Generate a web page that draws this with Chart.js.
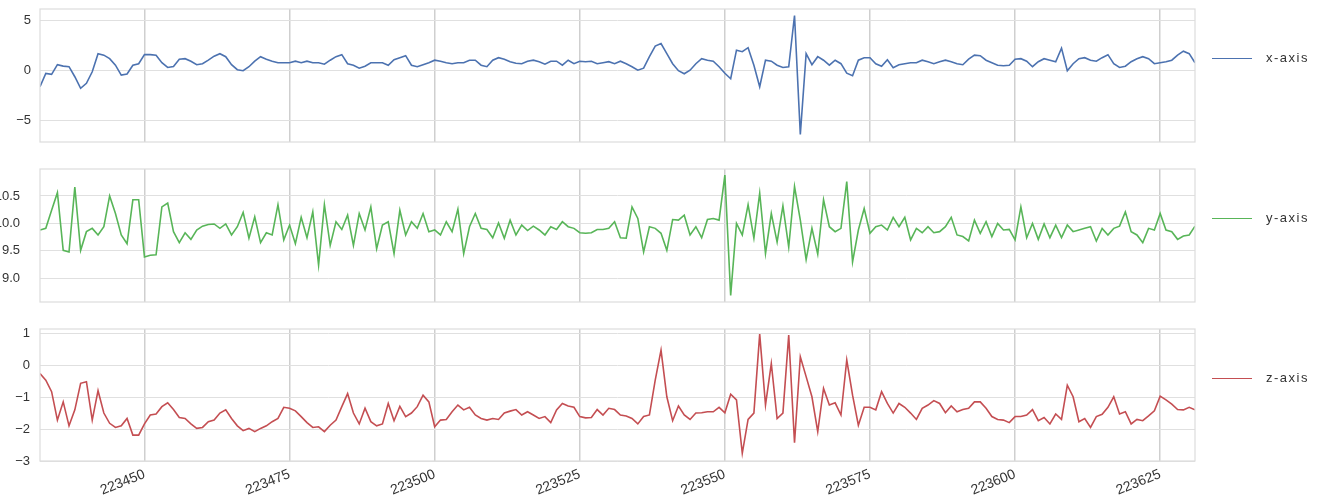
<!DOCTYPE html>
<html>
<head>
<meta charset="utf-8">
<script src="https://cdn.jsdelivr.net/npm/chart.js@4.4.1/dist/chart.umd.min.js"></script>
<style>
  html, body { margin: 0; padding: 0; background: #fff; }
  body { width: 1330px; height: 495px; position: relative; overflow: hidden; font-family: "Liberation Sans", Arial, sans-serif; }
  .panel { position: absolute; left: 0; }
  .legend { position: absolute; left: 1212px; color: #333; font-size: 13px; letter-spacing: 1.5px; white-space: nowrap; }
  .legend span.swatch { display: inline-block; width: 40px; height: 0; border-top: 1.6px solid; vertical-align: middle; margin-right: 14px; }
</style>
</head>
<body>
<div class="panel" style="top:0px"><canvas id="chart-x" width="1330" height="150"></canvas></div>
<div class="panel" style="top:160px"><canvas id="chart-y" width="1330" height="150"></canvas></div>
<div class="panel" style="top:320px"><canvas id="chart-z" width="1330" height="175"></canvas></div>
<div class="legend" style="top:50px"><span class="swatch" style="border-color:#4c72b0"></span>x-axis</div>
<div class="legend" style="top:210px"><span class="swatch" style="border-color:#58b558"></span>y-axis</div>
<div class="legend" style="top:370px"><span class="swatch" style="border-color:#c44e52"></span>z-axis</div>
<script>
// sample index of first reading
const xStart = 223432;
const xTicks = [223450, 223475, 223500, 223525, 223550, 223575, 223600, 223625];

const xAxisValues = [
  -1.6, -0.26, -0.36, 0.6, 0.46, 0.4, -0.6, -1.75, -1.25, -0.1,
  1.7, 1.55, 1.2, 0.55, -0.43, -0.33, 0.55, 0.7, 1.6, 1.6,
  1.55, 0.8, 0.33, 0.43, 1.15, 1.2, 0.95, 0.6, 0.7, 1.05,
  1.45, 1.7, 1.4, 0.6, 0.1, 0.0, 0.4, 0.95, 1.4, 1.15,
  0.95, 0.8, 0.8, 0.8, 0.95, 0.8, 0.95, 0.8, 0.8, 0.65,
  1.05, 1.4, 1.6, 0.7, 0.55, 0.25, 0.45, 0.8, 0.8, 0.8,
  0.55, 1.1, 1.3, 1.5, 0.55, 0.4, 0.6, 0.8, 1.05, 0.95,
  0.8, 0.7, 0.8, 0.8, 1.05, 1.05, 0.55, 0.4, 1.05, 1.3,
  1.15, 0.9, 0.75, 0.7, 0.95, 1.05, 0.9, 0.65, 0.95, 0.95,
  0.55, 1.05, 0.7, 0.95, 0.9, 0.95, 0.7, 0.8, 0.9, 0.7,
  0.95, 0.7, 0.4, 0.05, 0.25, 1.4, 2.45, 2.7, 1.7, 0.7,
  0.0, -0.3, 0.05, 0.7, 1.2, 1.05, 0.95, 0.4, -0.25, -0.8,
  2.05, 1.9, 2.3, 0.55, -1.6, 1.05, 0.95, 0.55, 0.33, 0.4,
  5.5, -6.35, 1.7, 0.6, 1.4, 1.05, 0.55, 1.05, 0.7, -0.25,
  -0.5, 1.05, 1.3, 1.3, 0.7, 0.45, 1.1, 0.3, 0.6, 0.7,
  0.8, 0.8, 1.05, 0.9, 0.7, 0.9, 1.05, 0.9, 0.7, 0.6,
  1.15, 1.55, 1.5, 1.05, 0.8, 0.55, 0.5, 0.55, 1.15, 1.2,
  0.95, 0.4, 0.9, 1.2, 1.05, 0.9, 2.25, 0.0, 0.7, 1.2,
  1.3, 1.05, 0.95, 1.3, 1.6, 0.7, 0.33, 0.45, 0.9, 1.2,
  1.4, 1.2, 0.7, 0.8, 0.9, 1.05, 1.55, 1.95, 1.7, 0.8
];

const yAxisValues = [
  9.88, 9.91, 10.24, 10.56, 9.51, 9.48, 10.66, 9.51, 9.85, 9.91,
  9.79, 9.94, 10.50, 10.18, 9.79, 9.63, 10.43, 10.43, 9.39, 9.42,
  9.43, 10.30, 10.37, 9.85, 9.65, 9.83, 9.71, 9.88, 9.95, 9.98,
  9.99, 9.91, 9.99, 9.79, 9.94, 10.20, 9.73, 10.12, 9.65, 9.83,
  9.79, 10.34, 9.70, 9.97, 9.63, 10.11, 9.74, 10.21, 9.24, 10.34,
  9.60, 10.03, 9.89, 10.15, 9.60, 10.18, 9.88, 10.30, 9.54, 9.97,
  10.03, 9.45, 10.24, 9.79, 10.03, 9.91, 10.18, 9.85, 9.88, 9.79,
  10.03, 9.85, 10.26, 9.45, 9.94, 10.18, 9.91, 9.89, 9.74, 10.01,
  9.73, 10.06, 9.79, 9.97, 9.87, 9.95, 9.88, 9.79, 9.94, 9.89,
  10.03, 9.94, 9.91, 9.83, 9.82, 9.83, 9.89, 9.89, 9.91, 10.03,
  9.74, 9.73, 10.30, 10.09, 9.48, 9.94, 9.91, 9.82, 9.51, 10.07,
  10.06, 10.15, 9.79, 9.94, 9.74, 10.07, 10.09, 10.06, 10.88, 8.69,
  10.00, 9.79, 10.34, 9.73, 10.55, 9.45, 10.18, 9.66, 10.32, 9.57,
  10.67, 10.06, 9.34, 9.91, 9.44, 10.43, 9.94, 9.85, 9.91, 10.76,
  9.30, 9.88, 10.27, 9.82, 9.94, 9.97, 9.88, 10.11, 9.94, 10.11,
  9.70, 9.91, 9.83, 9.94, 9.83, 9.85, 9.94, 10.11, 9.79, 9.76,
  9.68, 10.06, 9.82, 10.03, 9.76, 10.00, 9.88, 9.89, 9.70, 10.30,
  9.74, 10.00, 9.71, 9.99, 9.74, 9.97, 9.74, 9.97, 9.85, 9.88,
  9.91, 9.94, 9.68, 9.91, 9.79, 9.91, 9.95, 10.21, 9.85, 9.79,
  9.65, 9.91, 9.88, 10.18, 9.88, 9.85, 9.71, 9.77, 9.79, 9.95
];

const zAxisValues = [
  -0.26, -0.47, -0.83, -1.72, -1.15, -1.9, -1.4, -0.57, -0.52, -1.72,
  -0.8, -1.5, -1.82, -1.95, -1.9, -1.67, -2.19, -2.19, -1.84, -1.56,
  -1.53, -1.3, -1.18, -1.39, -1.64, -1.67, -1.84, -1.98, -1.95, -1.77,
  -1.72, -1.5, -1.4, -1.67, -1.9, -2.05, -1.98, -2.08, -1.98, -1.9,
  -1.77, -1.67, -1.32, -1.35, -1.43, -1.61, -1.8, -1.95, -1.93, -2.08,
  -1.88, -1.72, -1.3, -0.89, -1.5, -1.84, -1.35, -1.77, -1.9, -1.84,
  -1.2, -1.74, -1.29, -1.61, -1.5, -1.3, -0.94, -1.15, -1.93, -1.72,
  -1.7, -1.46, -1.25, -1.4, -1.32, -1.56, -1.67, -1.72, -1.67, -1.7,
  -1.5, -1.44, -1.39, -1.56, -1.46, -1.56, -1.67, -1.61, -1.8, -1.4,
  -1.2, -1.28, -1.32, -1.61, -1.65, -1.64, -1.39, -1.56, -1.35, -1.39,
  -1.56, -1.59, -1.67, -1.84, -1.61, -1.56, -0.47, 0.47, -0.99, -1.74,
  -1.28, -1.56, -1.7, -1.5, -1.49, -1.46, -1.46, -1.32, -1.49, -0.91,
  -1.09, -2.76, -1.7, -1.5, 0.97, -1.25, 0.05, -1.67, -1.5, 0.94,
  -2.43, 0.26, -0.36, -0.99, -2.08, -0.73, -1.25, -1.18, -1.56, 0.16,
  -0.94, -1.88, -1.32, -1.32, -1.4, -0.83, -1.2, -1.5, -1.2, -1.32,
  -1.5, -1.7, -1.35, -1.25, -1.11, -1.2, -1.49, -1.28, -1.46, -1.39,
  -1.35, -1.15, -1.15, -1.35, -1.61, -1.7, -1.72, -1.8, -1.61, -1.61,
  -1.56, -1.39, -1.74, -1.64, -1.84, -1.53, -1.7, -0.63, -0.99, -1.77,
  -1.67, -1.95, -1.61, -1.54, -1.32, -0.99, -1.53, -1.46, -1.84, -1.7,
  -1.74, -1.59, -1.43, -0.97, -1.09, -1.22, -1.39, -1.4, -1.32, -1.4
];

const yTicksX = [-5, 0, 5];
const yTicksY = [9.0, 9.5, 10.0, 10.5];
const yTicksZ = [-3, -2, -1, 0, 1];

const xLabels = [];
for (let i = 0; i < xAxisValues.length; i++) xLabels.push(xStart + i);

const fontFamily = '"Liberation Sans", Arial, sans-serif';

// light frame round the plot area, like the seaborn whitegrid spines
const framePlugin = {
  id: 'frame',
  afterDraw(chart) {
    const a = chart.chartArea;
    const ctx = chart.ctx;
    ctx.save();
    ctx.strokeStyle = '#dcdcdc';
    ctx.lineWidth = 1.2;
    ctx.strokeRect(a.left, a.top, a.right - a.left, a.bottom - a.top);
    ctx.restore();
  }
};

function minusSign(s) {
  return String(s).replace('-', '\u2212');
}

function makeChart(canvasId, values, color, yMin, yMax, yTicks, cfg) {
  const points = values.map((v, i) => ({ x: xLabels[i], y: v }));
  return new Chart(document.getElementById(canvasId), {
    type: 'line',
    data: {
      datasets: [{
        data: points,
        borderColor: color,
        borderWidth: 1.6,
        pointRadius: 0,
        tension: 0,
        fill: false,
      }],
    },
    options: {
      responsive: false,
      animation: false,
      devicePixelRatio: 1,
      layout: { padding: { left: 0, right: 135, top: cfg.padTop, bottom: cfg.padBottom } },
      plugins: { legend: { display: false }, tooltip: { enabled: false } },
      scales: {
        x: {
          type: 'linear',
          min: xLabels[0],
          max: xLabels[xLabels.length - 1],
          afterBuildTicks: s => { s.ticks = xTicks.map(v => ({ value: v })); },
          afterFit: s => { s.height = cfg.xHeight; s.paddingLeft = 0; s.paddingRight = 0; },
          border: { display: false },
          grid: { color: '#cfcfcf', lineWidth: 1.5, drawTicks: false },
          ticks: {
            display: cfg.showX,
            autoSkip: false,
            minRotation: 22,
            maxRotation: 22,
            padding: 5,
            color: '#333',
            font: { family: fontFamily, size: 14 },
            callback: v => String(v),
          },
        },
        y: {
          min: yMin,
          max: yMax,
          afterBuildTicks: s => { s.ticks = yTicks.map(v => ({ value: v })); },
          afterFit: s => { s.width = 40; s.paddingTop = 0; s.paddingBottom = 0; },
          border: { display: false },
          grid: { color: '#e0e0e0', lineWidth: 1, drawTicks: false },
          ticks: {
            padding: cfg.yPad,
            color: '#333',
            font: { family: fontFamily, size: 13 },
            callback: v => minusSign(cfg.fmt(v)),
          },
        },
      },
    },
    plugins: [framePlugin],
  });
}

document.addEventListener('DOMContentLoaded', function () {
  makeChart('chart-x', xAxisValues, '#4c72b0', -7.1, 6.15, yTicksX,
    { padTop: 9, padBottom: 8, xHeight: 0, showX: false, yPad: 9, fmt: v => v.toFixed(0) });
  makeChart('chart-y', yAxisValues, '#58b558', 8.57, 10.99, yTicksY,
    { padTop: 9, padBottom: 8, xHeight: 0, showX: false, yPad: 20, fmt: v => v.toFixed(1) });
  makeChart('chart-z', zAxisValues, '#c44e52', -3.0, 1.13, yTicksZ,
    { padTop: 9, padBottom: 0, xHeight: 34, showX: true, yPad: 10, fmt: v => v.toFixed(0) });
});
</script>
</body>
</html>
